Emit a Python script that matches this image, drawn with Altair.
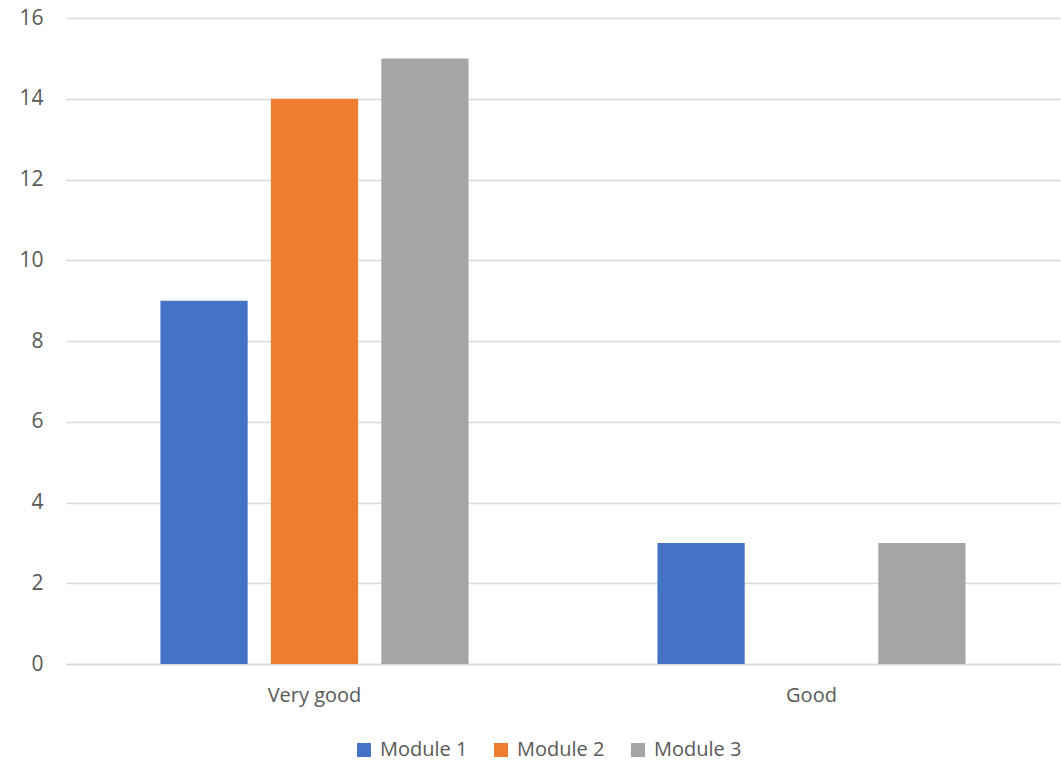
import altair as alt
import pandas as pd

categories = ["Very good", "Good"]
series = ["Module 1", "Module 2", "Module 3"]
module1 = [9, 3]
module2 = [14, 0]
module3 = [15, 3]
colors = ["#4472C4", "#ED7D31", "#A5A5A5"]

rows = []
for i, c in enumerate(categories):
    for s, vals in zip(series, [module1, module2, module3]):
        rows.append({"Rating": c, "Series": s, "Value": vals[i]})
df = pd.DataFrame(rows)

FONT = "Open Sans"
TXT = "#595959"
FS = 20

chart = alt.Chart(df).mark_bar().encode(
    x=alt.X("Rating:N", sort=categories, title=None,
            scale=alt.Scale(paddingInner=0.38, paddingOuter=0.19),
            axis=alt.Axis(labelAngle=0, labelFontSize=FS, labelColor=TXT, labelFont=FONT,
                          ticks=False, domain=True, domainColor="#D9D9D9", domainWidth=1.3,
                          labelPadding=21, grid=False)),
    xOffset=alt.XOffset("Series:N", sort=series,
                        scale=alt.Scale(paddingInner=0.21, paddingOuter=0)),
    y=alt.Y("Value:Q", title=None,
            scale=alt.Scale(domain=[0, 16], nice=False),
            axis=alt.Axis(values=list(range(0, 17, 2)), labelFontSize=21, labelColor=TXT, labelFont=FONT,
                          ticks=False, domain=False, gridColor="#D9D9D9", gridWidth=1.3, labelPadding=23)),
    color=alt.Color("Series:N", sort=series,
                    scale=alt.Scale(domain=series, range=colors),
                    legend=alt.Legend(title=None, orient="none", direction="horizontal",
                                      legendX=288, legendY=722, symbolType="square", symbolSize=196,
                                      symbolStrokeWidth=0, labelFontSize=FS, labelColor=TXT, labelFont=FONT,
                                      columnPadding=23, symbolOffset=0, labelOffset=6)),
).properties(
    width=994, height=646,
    background="white",
    autosize=alt.AutoSizeParams(type="none"),
    padding={"left": 66, "top": 18, "right": 1, "bottom": 97},
).configure_view(stroke=None)

chart.save("out.html", embed_options={"renderer": "svg", "actions": False})
